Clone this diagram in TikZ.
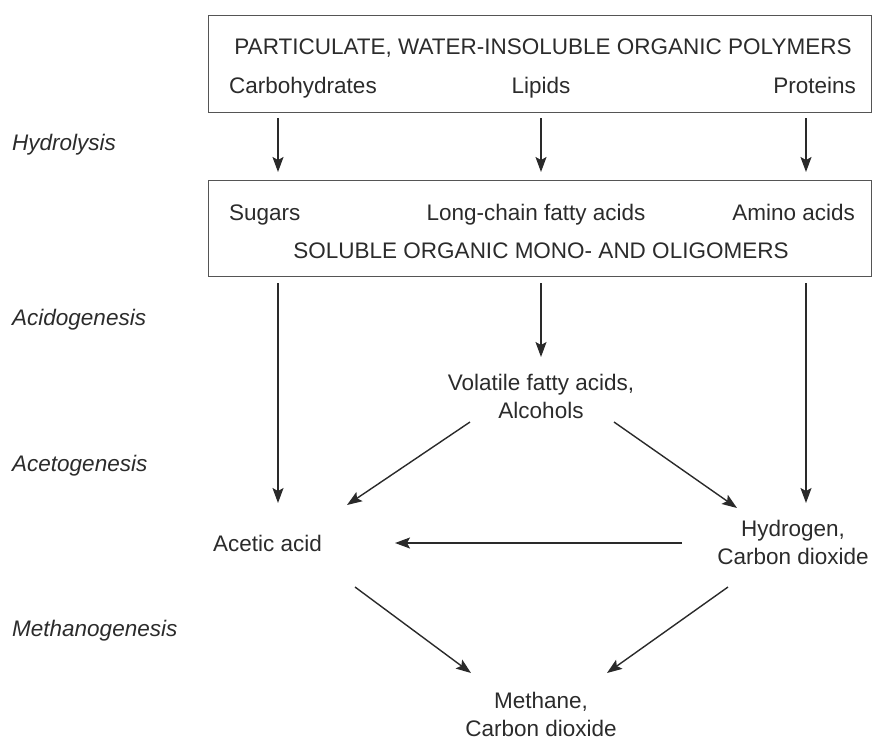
\documentclass[tikz,border=0pt]{standalone}
\usepackage{fontspec}
\setmainfont{Liberation Sans}
\usetikzlibrary{arrows.meta}
\definecolor{txt}{HTML}{2B2B2B}
\definecolor{ln}{HTML}{2A2A2A}
\begin{document}
\begin{tikzpicture}[x=1pt,y=-1pt,
  lbl/.style={inner sep=0pt,text=txt,font=\fontsize{22.5}{28}\selectfont,align=center},
  stage/.style={lbl,anchor=base west,font=\fontsize{22.5}{28}\selectfont\itshape},
  boxfr/.style={draw=ln!80,line width=1.1pt},
  arr/.style={draw=ln,line width=1.4pt,-{Stealth[length=15pt,width=11pt,inset=3pt]}}]
\useasboundingbox (0,0) rectangle (873,740);
% boxes
\node[boxfr,inner sep=0pt,minimum width=663pt,minimum height=97pt,anchor=north west] (box1) at (208,15) {};
\node[boxfr,inner sep=0pt,minimum width=663pt,minimum height=96pt,anchor=north west] (box2) at (208,180) {};
% texts box 1
\node[lbl,anchor=base] (part) at (543,54) {PARTICULATE, WATER-INSOLUBLE ORGANIC POLYMERS};
\node[lbl,anchor=base west] (carb) at (229,93) {Carbohydrates};
\node[lbl,anchor=base] (lip) at (541,93) {Lipids};
\node[lbl,anchor=base east] (prot) at (856,93) {Proteins};
% texts box 2
\node[lbl,anchor=base west] (sug) at (229,220) {Sugars};
\node[lbl,anchor=base] (lcfa) at (536,220) {Long-chain fatty acids};
\node[lbl,anchor=base east] (amino) at (855,220) {Amino acids};
\node[lbl,anchor=base] (sol) at (541,258) {SOLUBLE ORGANIC MONO- AND OLIGOMERS};
% intermediates (base anchor = last line's baseline)
\node[lbl,anchor=base] (vfa) at (541,418) {Volatile fatty acids,\\Alcohols};
\node[lbl,anchor=base west] (acet) at (213,551) {Acetic acid};
\node[lbl,anchor=base] (hyd) at (793,564) {Hydrogen,\\Carbon dioxide};
\node[lbl,anchor=base] (meth) at (541,736) {Methane,\\Carbon dioxide};
% stage labels
\node[stage] (s1) at (12,150) {Hydrolysis};
\node[stage] (s2) at (12,325) {Acidogenesis};
\node[stage] (s3) at (12,471) {Acetogenesis};
\node[stage] (s4) at (12,636) {Methanogenesis};
% connector end points
\coordinate (h1a) at (278,118); \coordinate (h1b) at (278,172);
\coordinate (h2a) at (541,118); \coordinate (h2b) at (541,172);
\coordinate (h3a) at (806,118); \coordinate (h3b) at (806,172);
\coordinate (a1a) at (278,283); \coordinate (a1b) at (278,503);
\coordinate (a2a) at (541,283); \coordinate (a2b) at (541,357);
\coordinate (a3a) at (806,283); \coordinate (a3b) at (806,503);
\coordinate (v1a) at (470,422); \coordinate (v1b) at (347,505);
\coordinate (v2a) at (614,422); \coordinate (v2b) at (737,508);
\coordinate (hxa) at (682,543); \coordinate (hxb) at (395,543);
\coordinate (m1a) at (355,587); \coordinate (m1b) at (471,673);
\coordinate (m2a) at (728,587); \coordinate (m2b) at (607,673);
% arrows
\draw[arr] (h1a) -- (h1b);
\draw[arr] (h2a) -- (h2b);
\draw[arr] (h3a) -- (h3b);
\draw[arr] (a1a) -- (a1b);
\draw[arr] (a2a) -- (a2b);
\draw[arr] (a3a) -- (a3b);
\draw[arr] (v1a) -- (v1b);
\draw[arr] (v2a) -- (v2b);
\draw[arr] (hxa) -- (hxb);
\draw[arr] (m1a) -- (m1b);
\draw[arr] (m2a) -- (m2b);
\end{tikzpicture}
\end{document}
